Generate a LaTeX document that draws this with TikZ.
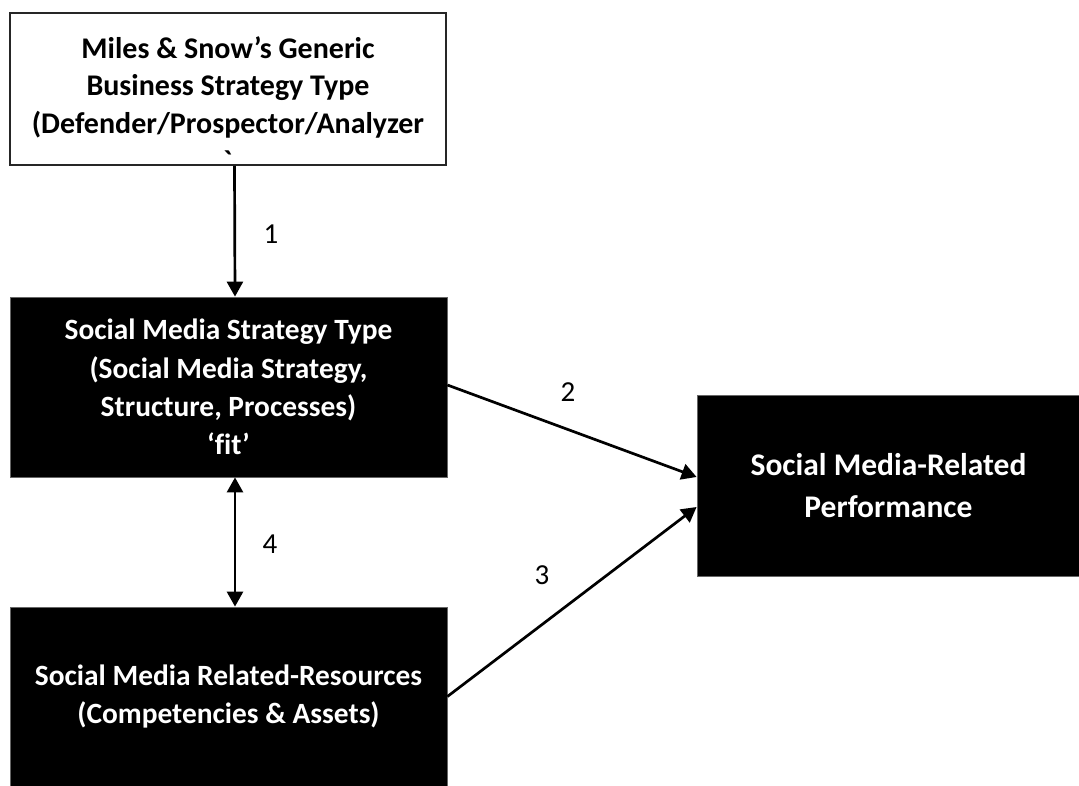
\documentclass[tikz,border=0pt]{standalone}
\usepackage{fontspec}
\setmainfont{Carlito}[Ligatures={TeX,NoCommon}]
\newfontfamily\rawfont{Carlito}
\usetikzlibrary{arrows.meta}
\begin{document}
\begin{tikzpicture}[x=1pt,y=-1pt,
  whitebox/.style={draw=black!85,line width=1.5pt,fill=white,minimum width=436pt,minimum height=152pt,inner sep=0pt},
  boxtext/.style={inner sep=0pt,align=center,font=\fontsize{30}{37.7}\selectfont\bfseries},
  blackbox/.style={draw=black!60,line width=0.8pt,fill=black,text=white,inner sep=0pt,align=center,font=\fontsize{29.4}{38.3}\selectfont\bfseries},
  bigbox/.style={blackbox,font=\fontsize{31.5}{42}\selectfont\bfseries},
  link/.style={line width=2.7pt,-{Triangle[length=15pt,width=16pt]}},
  twoway/.style={line width=2.7pt,{Triangle[length=15pt,width=16pt]}-{Triangle[length=15pt,width=16pt]}},
  num/.style={inner sep=0pt,font=\fontsize{29}{34}\selectfont}]
\fill[white] (0,0) rectangle (1079,785);
\useasboundingbox (0,0) rectangle (1079,785);

% generic business strategy
\node[whitebox] (top) at (228,89) {};
\node[boxtext,anchor=north] (toptext) at (228,36)
  {Miles \& Snow’s Generic\\Business Strategy Type\\(Defender/Prospector/Analyzer\\{\rawfont\bfseries`}};

% social media strategy type
\node[blackbox,minimum width=437pt,minimum height=180pt] (mid) at (228.5,387)
  {Social Media Strategy Type\\(Social Media Strategy,\\Structure, Processes)\\‘fit’};

% resources
\node[blackbox,minimum width=437pt,minimum height=179pt] (bot) at (228.5,696.5)
  {Social Media Related-Resources\\(Competencies \& Assets)};

% performance
\node[bigbox,minimum width=383pt,minimum height=181pt] (perf) at (888.5,485.5)
  {Social Media-Related\\Performance};

% relationships
\draw[link] ([xshift=6.5pt]top.south) -- ([xshift=6.5pt]mid.north);
\draw[twoway] ([xshift=6.5pt]mid.south) -- ([xshift=6.5pt]bot.north);
\draw[link] ([yshift=2pt]mid.east) -- ([yshift=8.5pt]perf.west);
\draw[link] (bot.east) -- ([yshift=-21.5pt]perf.west);

\node[num] (n1) at (271,234) {1};
\node[num] (n2) at (568,392) {2};
\node[num] (n3) at (542,575) {3};
\node[num] (n4) at (270,544) {4};
\end{tikzpicture}
\end{document}
